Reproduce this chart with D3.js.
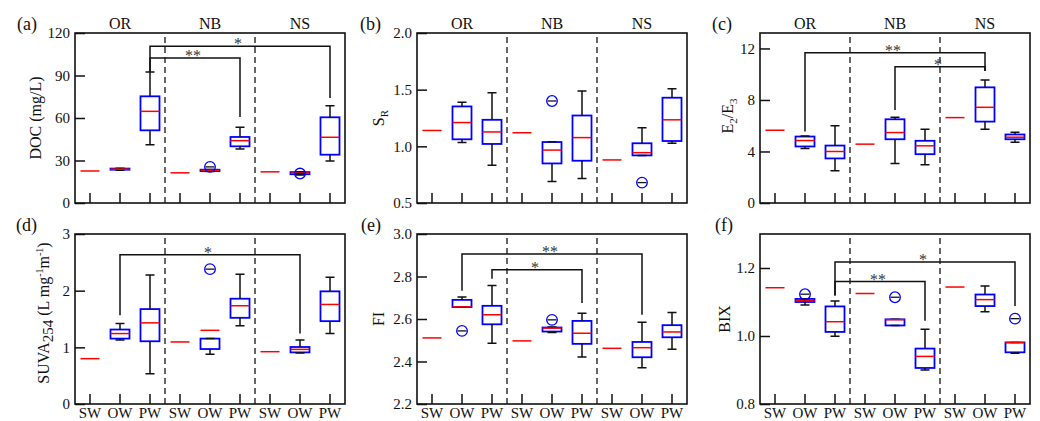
<!DOCTYPE html>
<html>
<head>
<meta charset="utf-8">
<script src="https://cdn.jsdelivr.net/npm/d3@7"></script>
<style>
  body { margin: 0; background: #fff; }
  text { font-family: "Liberation Serif", "Times New Roman", serif; fill: #111; }
  .star { opacity: 0.99; }
</style>
</head>
<body>
<svg id="fig" width="1040" height="421"></svg>
<script>
/////////////////////////////////////////////////////////
// DATA  (box stats are [min, q1, median, q3, max])
/////////////////////////////////////////////////////////
var sites = ['OR', 'NB', 'NS'];
var waters = ['SW', 'OW', 'PW'];

// (a) DOC
var docTicks = [0, 30, 60, 90, 120];
var docSW = [22.6, 21.3, 22.0];
var docOW = [[23.2, 23.5, 23.9, 24.3, 24.6], [22.2, 22.5, 23.1, 23.5, 23.6], [19.8, 20.3, 21.2, 21.8, 22.0]];
var docPW = [[41.2, 51.3, 64.7, 75.3, 92.5], [38.1, 40.0, 44.0, 46.6, 53.4], [29.6, 34.1, 46.4, 60.5, 68.7]];
var docOut = [[4, 25.5], [7, 20.8]];
var docSig = [[2, 8, 110.6, 92.5, 74.1, '*'], [2, 5, 102.4, 92.5, 60.7, '**']];

// (b) SR
var srTicks = [0.5, 1.0, 1.5, 2.0];
var srSW = [1.14, 1.12, 0.88];
var srOW = [[1.033, 1.062, 1.21, 1.352, 1.388], [0.689, 0.849, 0.967, 1.038, 1.04], [0.92, 0.92, 0.944, 1.027, 1.163]];
var srPW = [[0.834, 1.021, 1.127, 1.234, 1.473], [0.716, 0.873, 1.077, 1.272, 1.488], [1.027, 1.047, 1.234, 1.429, 1.509]];
var srOut = [[4, 1.40], [7, 0.68]];
var srSig = [];

// (c) E2/E3
var e2Ticks = [0, 4, 8, 12];
var e2SW = [5.65, 4.57, 6.63];
var e2OW = [[4.23, 4.39, 4.85, 5.16, 5.2], [3.07, 4.95, 5.47, 6.5, 6.66], [5.73, 6.32, 7.43, 8.98, 9.55]];
var e2PW = [[2.5, 3.46, 4.0, 4.46, 5.99], [2.97, 3.79, 4.44, 4.83, 5.73], [4.72, 4.95, 5.11, 5.32, 5.5]];
var e2Out = [];
var e2Sig = [[1, 7, 11.66, 5.55, 10.25, '**'], [4, 7, 10.58, 7.23, 10.25, '*']];

// (d) SUVA254
var suvaTicks = [0, 1, 2, 3];
var suvaSW = [0.80, 1.095, 0.923];
var suvaOW = [[1.13, 1.154, 1.243, 1.314, 1.42], [0.876, 0.97, 1.30, 1.154, 1.154], [0.9, 0.911, 0.964, 1.006, 1.13]];
var suvaPW = [[0.533, 1.107, 1.432, 1.675, 2.278], [1.379, 1.521, 1.734, 1.858, 2.29], [1.243, 1.462, 1.757, 1.988, 2.237]];
var suvaOut = [[4, 2.38]];
var suvaSig = [[1, 7, 2.633, 1.568, 1.243, '*']];

// (e) FI
var fiTicks = [2.2, 2.4, 2.6, 2.8, 3.0];
var fiSW = [2.511, 2.497, 2.462];
var fiOW = [[2.655, 2.656, 2.657, 2.690, 2.703], [2.536, 2.541, 2.557, 2.560, 2.562], [2.371, 2.420, 2.465, 2.492, 2.585]];
var fiPW = [[2.486, 2.575, 2.620, 2.662, 2.758], [2.421, 2.483, 2.533, 2.591, 2.627], [2.458, 2.514, 2.539, 2.571, 2.631]];
var fiOut = [[1, 2.544], [4, 2.596]];
var fiSig = [[1, 7, 2.906, 2.733, 2.62, '**'], [2, 5, 2.832, 2.79, 2.675, '*']];

// (f) BIX
var bixTicks = [0.8, 1.0, 1.2];
var bixSW = [1.142, 1.125, 1.144];
var bixOW = [[1.091, 1.10, 1.104, 1.109, 1.109], [1.031, 1.031, 1.048, 1.049, 1.049], [1.071, 1.088, 1.107, 1.122, 1.147]];
var bixPW = [[0.999, 1.012, 1.042, 1.087, 1.103], [0.90, 0.906, 0.94, 0.963, 1.02], [0.949, 0.952, 0.981, 0.981, 0.981]];
var bixOut = [[1, 1.123], [4, 1.114], [8, 1.051]];
var bixSig = [[2, 8, 1.218, 1.119, 1.088, '*'], [2, 5, 1.16, 1.119, 1.045, '**']];

/////////////////////////////////////////////////////////
// LAYOUT
/////////////////////////////////////////////////////////
var colLeft = [75, 417, 760];
var rowTop = [33, 234];
var pw = 270, ph = 170;
var BLUE = '#0000ff', RED = '#ff0000';

var panels = [
  { tag: '(a)', col: 0, row: 0, domain: [0, 120], ticks: docTicks, fmt: 'd', sw: docSW, ow: docOW, pw: docPW, out: docOut, sig: docSig,
    tagDx: -58, titleDx: -34, titleDy: 0, title: [['DOC (mg/L)', 0, 16]] },
  { tag: '(b)', col: 1, row: 0, domain: [0.5, 2.0], ticks: srTicks, fmt: '.1f', sw: srSW, ow: srOW, pw: srPW, out: srOut, sig: srSig,
    tagDx: -57, titleDx: -33, titleDy: 0, title: [['S', 0, 16], ['R', 4, 11]] },
  { tag: '(c)', col: 2, row: 0, domain: [0, 13.2], ticks: e2Ticks, fmt: 'd', sw: e2SW, ow: e2OW, pw: e2PW, out: e2Out, sig: e2Sig,
    tagDx: -48, titleDx: -27, titleDy: -2, title: [['E', 0, 16], ['2', 4, 11], ['/E', 0, 16], ['3', 4, 11]] },
  { tag: '(d)', col: 0, row: 1, domain: [0, 3], ticks: suvaTicks, fmt: 'd', sw: suvaSW, ow: suvaOW, pw: suvaPW, out: suvaOut, sig: suvaSig,
    tagDx: -59, titleDx: -26, titleDy: -6,
    title: [['SUVA', 0, 16], ['254', 4, 15], [' (L mg', 0, 16], ['-1', -6, 10], ['m', 0, 16], ['-1', -6, 10], [')', 0, 16]] },
  { tag: '(e)', col: 1, row: 1, domain: [2.2, 3.0], ticks: fiTicks, fmt: '.1f', sw: fiSW, ow: fiOW, pw: fiPW, out: fiOut, sig: fiSig,
    tagDx: -56, titleDx: -33, titleDy: 0, title: [['FI', 0, 16]] },
  { tag: '(f)', col: 2, row: 1, domain: [0.8, 1.3], ticks: bixTicks, fmt: '.1f', sw: bixSW, ow: bixOW, pw: bixPW, out: bixOut, sig: bixSig,
    tagDx: -45, titleDx: -30, titleDy: 0, title: [['BIX', 0, 16]] }
];

var svg = d3.select('#fig');
var xScale = d3.scaleBand().domain(d3.range(9)).range([0, pw]);
function cx(i) { return xScale(i) + xScale.bandwidth() / 2; }

/////////////////////////////////////////////////////////
// DRAW ONE PANEL
/////////////////////////////////////////////////////////
function drawPanel(p) {
  var left = colLeft[p.col], top = rowTop[p.row];
  var g = svg.append('g').attr('transform', 'translate(' + left + ',' + top + ')');
  var y = d3.scaleLinear().domain(p.domain).range([ph, 0]);

  // Y AXIS (inward ticks)
  var yAx = g.append('g')
    .call(d3.axisLeft(y).tickValues(p.ticks).tickFormat(d3.format(p.fmt)).tickSize(-10).tickPadding(5));
  yAx.select('.domain').remove();
  yAx.selectAll('line').attr('stroke', '#111').attr('stroke-width', 1.5);
  yAx.selectAll('text').attr('font-size', 15).attr('font-family', '"Liberation Serif", serif').attr('fill', '#111');

  // X AXIS (inward ticks, labels only on bottom row)
  var xAx = g.append('g').attr('transform', 'translate(0,' + ph + ')')
    .call(d3.axisBottom(xScale).tickSize(-10).tickPadding(3)
      .tickFormat(function(i) { return p.row === 1 ? waters[i % 3] : ''; }));
  xAx.select('.domain').remove();
  xAx.selectAll('line').attr('stroke', '#111').attr('stroke-width', 1.5);
  xAx.selectAll('text').attr('font-size', 15).attr('font-family', '"Liberation Serif", serif').attr('fill', '#111');

  // DASHED SEPARATORS
  [3, 6].forEach(function(i) {
    var xx = xScale(i);
    g.append('line')
      .attr('x1', xx).attr('x2', xx).attr('y1', ph).attr('y2', 0)
      .attr('stroke', '#333').attr('stroke-width', 1.5).attr('stroke-dasharray', '6,4');
  });

  // SW: single value
  p.sw.forEach(function(v, s) {
    var c = cx(s * 3);
    g.append('line').attr('x1', c - 9.5).attr('x2', c + 9.5).attr('y1', y(v)).attr('y2', y(v))
      .attr('stroke', RED).attr('stroke-width', 1.5);
  });

  // BOXES
  function box(st, i) {
    var c = cx(i);
    var yq1 = y(st[1]), yq3 = y(st[3]);
    g.append('rect')
      .attr('x', c - 9.5).attr('y', Math.min(yq1, yq3))
      .attr('width', 19).attr('height', Math.max(Math.abs(yq1 - yq3), 0.5))
      .attr('fill', 'none').attr('stroke', BLUE).attr('stroke-width', 1.8);
    g.append('path')
      .attr('d', 'M' + c + ',' + y(st[3]) + 'V' + y(st[4]) + 'M' + (c - 4.5) + ',' + y(st[4]) + 'H' + (c + 4.5) +
                 'M' + c + ',' + y(st[1]) + 'V' + y(st[0]) + 'M' + (c - 4.5) + ',' + y(st[0]) + 'H' + (c + 4.5))
      .attr('fill', 'none').attr('stroke', '#111').attr('stroke-width', 1.5);
    g.append('line').attr('x1', c - 9.5).attr('x2', c + 9.5).attr('y1', y(st[2])).attr('y2', y(st[2]))
      .attr('stroke', RED).attr('stroke-width', 1.5);
  }
  p.ow.forEach(function(st, s) { box(st, s * 3 + 1); });
  p.pw.forEach(function(st, s) { box(st, s * 3 + 2); });

  // OUTLIERS
  p.out.forEach(function(o) {
    var c = cx(o[0]), yy = y(o[1]);
    g.append('line').attr('x1', c - 4.5).attr('x2', c + 4.5).attr('y1', yy).attr('y2', yy)
      .attr('stroke', '#111').attr('stroke-width', 1.3);
    g.append('circle').attr('cx', c).attr('cy', yy).attr('r', 5.3)
      .attr('fill', 'none').attr('stroke', BLUE).attr('stroke-width', 1.3);
  });

  // SIGNIFICANCE BRACKETS
  p.sig.forEach(function(b) {
    var x1 = cx(b[0]), x2 = cx(b[1]);
    g.append('path')
      .attr('d', 'M' + x1 + ',' + y(b[3]) + 'V' + y(b[2]) + 'H' + x2 + 'V' + y(b[4]))
      .attr('fill', 'none').attr('stroke', '#111').attr('stroke-width', 1.5);
    g.append('text').attr('class', 'star')
      .attr('x', (x1 + x2) / 2 - 2).attr('y', y(b[2]) + 3)
      .attr('text-anchor', 'middle').attr('font-size', 16).style('fill', '#333')
      .text(b[5]);
  });

  // FRAME
  g.append('rect').attr('width', pw).attr('height', ph)
    .attr('fill', 'none').attr('stroke', '#111').attr('stroke-width', 1.6);

  // PANEL TAG
  g.append('text').attr('x', p.tagDx).attr('y', -3).attr('font-size', 18).text(p.tag);

  // SITE LABELS (top row)
  if (p.row === 0) {
    sites.forEach(function(s, k) {
      g.append('text').attr('x', cx(k * 3 + 1)).attr('y', -4)
        .attr('text-anchor', 'middle').attr('font-size', 16).text(s);
    });
  }

  // Y TITLE
  var t = g.append('text')
    .attr('transform', 'translate(' + p.titleDx + ',' + (ph / 2 + p.titleDy) + ') rotate(-90)')
    .attr('text-anchor', 'middle');
  var cur = 0;
  p.title.forEach(function(part) {
    t.append('tspan').attr('dy', part[1] - cur).attr('font-size', part[2]).text(part[0]);
    cur = part[1];
  });
}

panels.forEach(drawPanel);
</script>
</body>
</html>
